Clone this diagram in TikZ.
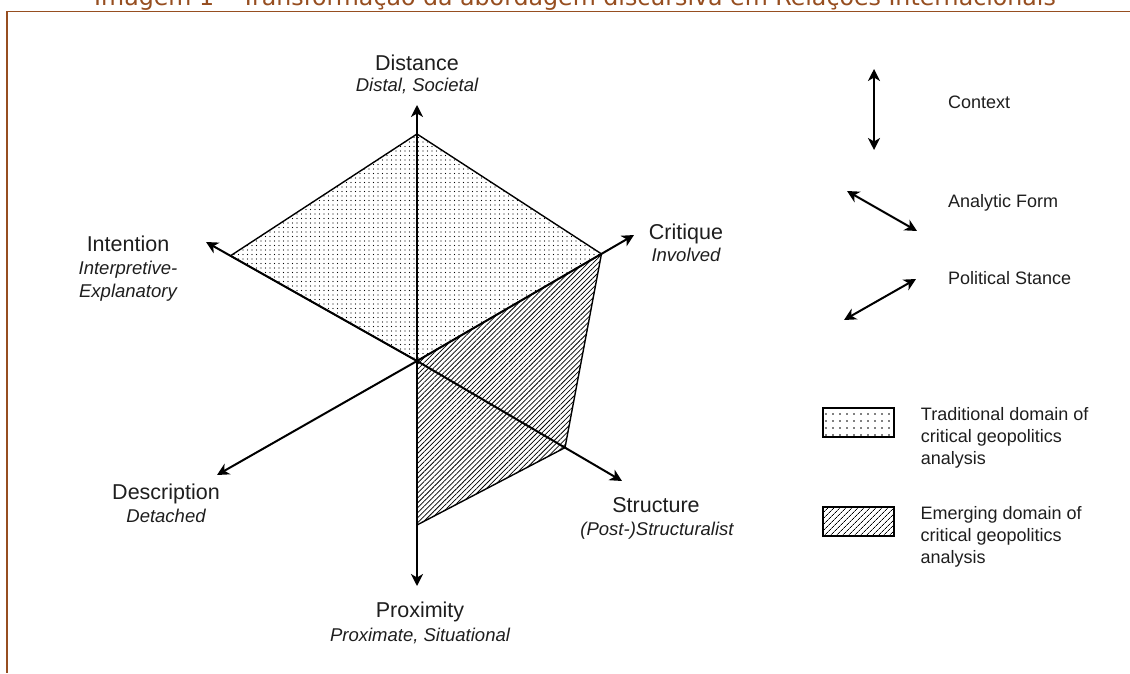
\documentclass[tikz,border=0pt]{standalone}
\usepackage{fontspec}
\setmainfont{Liberation Sans}
\newfontfamily\titlefont{DejaVu Sans}
\usetikzlibrary{arrows.meta,patterns.meta,calc,positioning}

\definecolor{framebrown}{RGB}{150,78,32}
\definecolor{inkgray}{RGB}{30,30,30}

\tikzset{
  axtip/.tip={Stealth[length=12pt,width=12pt,inset=3.5pt]},
  axis/.style={line width=2pt, -axtip},
  dblarrow/.style={line width=2pt, axtip-axtip},
  region/.style={line width=1.4pt, line join=round},
  mainlbl/.style={font=\fontsize{21.5}{24}\selectfont, inner sep=0pt, anchor=base, text=inkgray},
  sublbl/.style={font=\fontsize{18.5}{23}\selectfont\itshape, inner sep=0pt, anchor=base, text=inkgray},
  legtxt/.style={font=\fontsize{18}{22}\selectfont, inner sep=0pt, text=inkgray},
  legbox/.style={draw, line width=1.5pt, minimum width=71pt, minimum height=29pt, inner sep=0pt}
}

\begin{document}
\begin{tikzpicture}[x=1pt,y=1pt]
  \useasboundingbox (0,0) rectangle (1130,673);

  % caption, cut by the page edge, and frame
  \node[font=\titlefont\fontsize{23.7}{28}\selectfont, text=framebrown, anchor=base, inner sep=0pt]
    (caption) at (575,667) {Imagem 1 – Transformação da abordagem discursiva em Relações Internacionais};
  \draw[framebrown, line width=1.3pt] (1130,661.3) -- (7,661.3) -- (7,0);

  % centre and axis ends
  \coordinate (O) at (417,312);
  \coordinate (dist) at (417,568);
  \coordinate (prox) at (417,87);
  \coordinate (inten) at (206,431);
  \coordinate (crit) at (634,438);
  \coordinate (desc) at (217,198);
  \coordinate (struc) at (622,192);

  % corners of the two domains
  \coordinate (tL) at ($(O)!0.884!(inten)$);
  \coordinate (tT) at (417,539);
  \coordinate (tR) at ($(O)!0.85!(crit)$);
  \coordinate (eS) at ($(O)!0.722!(struc)$);
  \coordinate (eB) at (417,148);

  \fill[pattern={Dots[radius=0.7pt,distance=4.5pt]}] (O) -- (tL) -- (tT) -- (tR) -- cycle;
  \fill[pattern={Lines[angle=45,distance=3.5pt,line width=0.75pt]}] (O) -- (tR) -- (eS) -- (eB) -- cycle;
  \draw[region] (O) -- (tL) -- (tT) -- (tR) -- cycle;
  \draw[region] (tR) -- (eS) -- (eB);

  \foreach \e in {dist,prox,inten,crit,desc,struc}
    \draw[axis] (O) -- (\e);

  % axis labels
  \node[mainlbl] (distL) at (417,602.5) {Distance};
  \node[sublbl] (distS) at (417,581.5) {Distal, Societal};
  \node[mainlbl] (intenL) at (128,421.5) {Intention};
  \node[sublbl, anchor=north, align=center] (intenS) at (128,412) {Interpretive-\\Explanatory};
  \node[mainlbl] (critL) at (686,433.5) {Critique};
  \node[sublbl] (critS) at (686,411.5) {Involved};
  \node[mainlbl] (descL) at (166,173.5) {Description};
  \node[sublbl] (descS) at (166,150.5) {Detached};
  \node[mainlbl] (strucL) at (656,160.5) {Structure};
  \node[sublbl] (strucS) at (657,137.5) {(Post-)Structuralist};
  \node[mainlbl] (proxL) at (420,55.5) {Proximity};
  \node[sublbl] (proxS) at (420,31.5) {Proximate, Situational};

  % legend of the arrows
  \coordinate (ctxA) at (874,604);
  \coordinate (ctxB) at (874,523);
  \coordinate (anaA) at (847,482);
  \coordinate (anaB) at (917,442);
  \coordinate (polA) at (844,353);
  \coordinate (polB) at (916,394);
  \draw[dblarrow] (ctxA) -- (ctxB);
  \draw[dblarrow] (anaA) -- (anaB);
  \draw[dblarrow] (polA) -- (polB);
  \node[legtxt, anchor=base west] (ctxT) at (948,564.5) {Context};
  \node[legtxt, anchor=base west] (anaT) at (948,465.5) {Analytic Form};
  \node[legtxt, anchor=base west] (polT) at (948,388.5) {Political Stance};

  % legend of the domains
  \node[legbox, pattern={Dots[radius=0.8pt,distance=7pt]}] (tradBox) at (858.5,250.5) {};
  \node[legbox, pattern={Lines[angle=45,distance=4pt,line width=0.8pt]}] (emerBox) at (858.5,151.5) {};
  \node[legtxt, anchor=north west, align=left] (tradT) at ($(tradBox.north east)+(26,0)$)
    {Traditional domain of\\critical geopolitics\\analysis};
  \node[legtxt, anchor=north west, align=left] (emerT) at ($(emerBox.north east)+(26,0)$)
    {Emerging domain of\\critical geopolitics\\analysis};
\end{tikzpicture}
\end{document}
